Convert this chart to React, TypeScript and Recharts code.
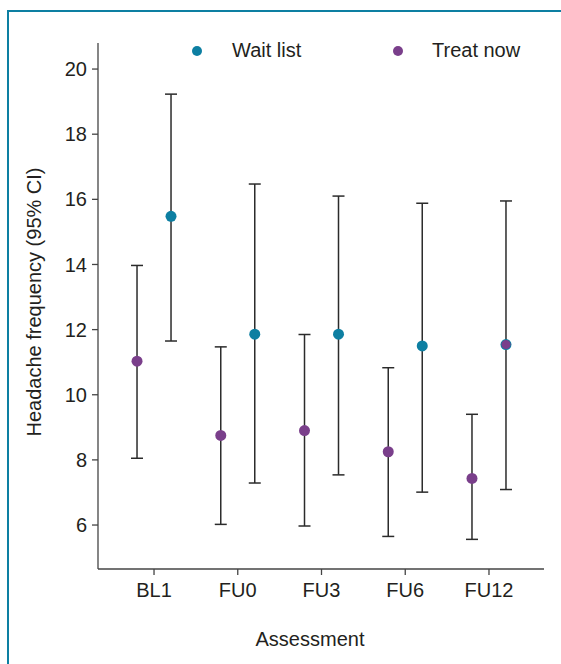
import React from 'react';
import { ComposedChart, Scatter, ErrorBar, XAxis, YAxis } from 'recharts';

const categories = ['BL1', 'FU0', 'FU3', 'FU6', 'FU12'];

const treatMean = [11.03, 8.75, 8.9, 8.25, 7.43];
const treatLow = [8.05, 6.02, 5.97, 5.65, 5.56];
const treatHigh = [13.97, 11.47, 11.85, 10.83, 9.4];

const waitMean = [15.48, 11.86, 11.86, 11.5, 11.54];
const waitLow = [11.65, 7.29, 7.54, 7.01, 7.09];
const waitHigh = [19.23, 16.47, 16.1, 15.88, 15.95];

const TEAL = '#0d7fa2';
const PURPLE = '#7a3f8b';
const INK = '#231f20';
const FONT = '"Liberation Sans", Arial, sans-serif';
const SHIFT = 0.203; // half the gap between the two groups, in category units

const build = (mean: number[], low: number[], high: number[], dir: number) =>
  mean.map((m, i) => ({
    name: categories[i],
    x: i + dir * SHIFT,
    y: m,
    err: [m - low[i], high[i] - m],
  }));

const treatData = build(treatMean, treatLow, treatHigh, -1);
const waitData = build(waitMean, waitLow, waitHigh, 1);

const dot = (fill: string) => (props: any) => {
  const { cx, cy, payload } = props;
  return (
    <g>
      <circle cx={cx} cy={cy} r={5.5} fill={fill} />
      {/* the original shows the treat-now marker drawn over this one */}
      {fill === TEAL && payload.name === 'FU12' && <circle cx={cx} cy={cy} r={4.6} fill={PURPLE} />}
    </g>
  );
};

const YTitle = (props: any) => {
  const { viewBox } = props;
  const cy = viewBox.y + viewBox.height / 2 - 4;
  return (
    <text
      x={41}
      y={cy}
      transform={`rotate(-90, 41, ${cy})`}
      textAnchor="middle"
      fontSize={20}
      fontFamily={FONT}
      fill={INK}
    >
      Headache frequency (95% CI)
    </text>
  );
};

const XTitle = (props: any) => {
  const { viewBox } = props;
  return (
    <text x={310} y={viewBox.y + 77} textAnchor="middle" fontSize={20} fontFamily={FONT} fill={INK}>
      Assessment
    </text>
  );
};

const legendItems = [
  { label: 'Wait list', color: TEAL, dotX: 197, textX: 232 },
  { label: 'Treat now', color: PURPLE, dotX: 398, textX: 432 },
];

export default function App() {
  return (
    <div style={{ position: 'relative', width: 561, height: 664, overflow: 'hidden', background: '#fff' }}>
      <style>{'body{margin:0}'}</style>
      <div
        style={{
          position: 'absolute',
          left: 7,
          top: 10,
          width: 700,
          height: 800,
          border: `2px solid ${TEAL}`,
          boxSizing: 'border-box',
        }}
      />
      <div style={{ position: 'absolute', left: 0, top: 0 }}>
        <ComposedChart width={561} height={664} margin={{ top: 43, right: 17, bottom: 0, left: 0 }}>
          <XAxis
            type="number"
            dataKey="x"
            domain={[-0.669, 4.657]}
            ticks={[0, 1, 2, 3, 4]}
            tickFormatter={(v: number) => categories[Math.round(v)]}
            allowDataOverflow
            height={95}
            stroke="#444"
            strokeWidth={1.3}
            tickSize={6}
            tickMargin={8}
            tick={{ fill: INK, fontSize: 20, fontFamily: FONT }}
            label={<XTitle />}
          />
          <YAxis
            type="number"
            dataKey="y"
            domain={[4.65, 20.8]}
            ticks={[6, 8, 10, 12, 14, 16, 18, 20]}
            allowDataOverflow
            width={98}
            stroke="#444"
            strokeWidth={1.3}
            tickSize={6}
            tickMargin={5}
            tick={{ fill: INK, fontSize: 20, fontFamily: FONT }}
            label={<YTitle />}
          />
          <Scatter name="Wait list" data={waitData} shape={dot(TEAL)} isAnimationActive={false}>
            <ErrorBar dataKey="err" direction="y" width={6} stroke="#2b2b2b" strokeWidth={1.5} />
          </Scatter>
          <Scatter name="Treat now" data={treatData} shape={dot(PURPLE)} isAnimationActive={false}>
            <ErrorBar dataKey="err" direction="y" width={6} stroke="#2b2b2b" strokeWidth={1.5} />
          </Scatter>
        </ComposedChart>
      </div>
      {legendItems.map((item) => (
        <React.Fragment key={item.label}>
          <div
            style={{
              position: 'absolute',
              left: item.dotX - 5,
              top: 46,
              width: 10,
              height: 10,
              borderRadius: '50%',
              background: item.color,
            }}
          />
          <div
            style={{
              position: 'absolute',
              left: item.textX,
              top: 40,
              lineHeight: '20px',
              fontSize: 20,
              fontFamily: FONT,
              color: INK,
              whiteSpace: 'nowrap',
            }}
          >
            {item.label}
          </div>
        </React.Fragment>
      ))}
    </div>
  );
}
